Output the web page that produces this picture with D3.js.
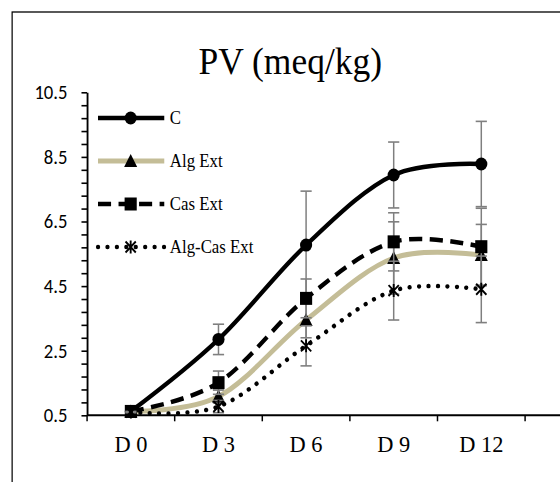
<!DOCTYPE html>
<html>
<head>
<meta charset="utf-8">
<script src="https://cdn.jsdelivr.net/npm/d3@7/dist/d3.min.js"></script>
<style>
  body { margin: 0; background: #fff; }
  svg { display: block; }
</style>
</head>
<body>
<!-- drawn on a 600 wide canvas, squeezed to 560 like the source picture -->
<svg id="chart" width="560" height="482" viewBox="0 0 600 482" preserveAspectRatio="none"></svg>
<script>
// sampling days
const categories = ["D 0", "D 3", "D 6", "D 9", "D 12"];

// PV values (meq/kg) and error bar half-widths
const valuesC = [0.62, 2.85, 5.77, 7.94, 8.28];
const errorsC = [0.03, 0.47, 1.67, 1.02, 1.32];
const valuesAlg = [0.62, 1.08, 3.45, 5.37, 5.46];
const errorsAlg = [0.03, 0.20, 0.55, 1.12, 0.95];
const valuesCas = [0.62, 1.51, 4.12, 5.87, 5.72];
const errorsCas = [0.03, 0.36, 0.60, 0.90, 1.19];
const valuesAlgCas = [0.60, 0.77, 2.65, 4.36, 4.40];
const errorsAlgCas = [0.02, 0.19, 0.62, 0.91, 1.03];

const yTickLabels = [0.5, 2.5, 4.5, 6.5, 8.5, 10.5];
const seriesNames = ["C", "Alg Ext", "Cas Ext", "Alg-Cas Ext"];

const DOTS = "0.1,10";
const series = [
  { name: seriesNames[0], values: valuesC, errors: errorsC, color: "#000", width: 4.5, dash: null, marker: "circle" },
  { name: seriesNames[1], values: valuesAlg, errors: errorsAlg, color: "#c4bd97", width: 5, dash: null, marker: "triangle" },
  { name: seriesNames[2], values: valuesCas, errors: errorsCas, color: "#000", width: 4.5, dash: "14,8", marker: "square" },
  { name: seriesNames[3], values: valuesAlgCas, errors: errorsAlgCas, color: "#000", width: 4.5, dash: DOTS, marker: "star" }
];

const serif = "'Liberation Serif', 'Times New Roman', serif";
const svg = d3.select("#chart");

// outer chart frame (cut off on the right and bottom)
svg.append("rect")
  .attr("x", 13).attr("y", 12)
  .attr("width", 640).attr("height", 520)
  .attr("fill", "none").attr("stroke", "#000").attr("stroke-width", 1.3);

svg.append("text")
  .attr("x", 311).attr("y", 74)
  .attr("text-anchor", "middle")
  .style("font-family", serif)
  .style("font-size", "38px")
  .text("PV (meq/kg)");

const x = d3.scaleBand().domain(categories).range([93.3, 562.6]);
const y = d3.scaleLinear().domain([0.5, 10.5]).range([415.3, 92.3]);
const cx = d => x(d) + x.bandwidth() / 2;

// y axis: minor ticks every 0.4, labels every 2
const yTicks = d3.range(0.5, 10.6, 0.4);
const yAxis = svg.append("g")
  .attr("transform", `translate(${x.range()[0]},0)`)
  .call(d3.axisLeft(y)
    .tickValues(yTicks)
    .tickSize(6)
    .tickSizeOuter(0)
    .tickPadding(15)
    .tickFormat(d => yTickLabels.some(v => Math.abs(v - d) < 1e-6) ? d.toFixed(1) : ""));
yAxis.select(".domain").attr("stroke-width", 2);
yAxis.selectAll(".tick line").attr("stroke-width", 1.6);
yAxis.selectAll("text")
  .style("font-family", "Carlito, Calibri, Lato, sans-serif")
  .style("font-size", "20px")
  .attr("fill", "#000");

// x axis: labels centred in bands, ticks on band edges, line runs off the edge
const xAxis = svg.append("g")
  .attr("transform", `translate(0,${y(0.5)})`)
  .call(d3.axisBottom(x).tickSize(0).tickPadding(20).tickSizeOuter(0));
xAxis.select(".domain").attr("d", `M${x.range()[0]},0H600`).attr("stroke-width", 2);
xAxis.selectAll("text")
  .style("font-family", serif)
  .style("font-size", "24px")
  .attr("fill", "#000")
  .attr("dy", "0.71em");
xAxis.selectAll(".edge")
  .data(categories.map(c => x(c)).concat([x.range()[1]]))
  .join("line")
  .attr("class", "edge")
  .attr("x1", d => d).attr("x2", d => d)
  .attr("y1", 0).attr("y2", 6)
  .attr("stroke", "#000").attr("stroke-width", 1.6);

const line = d3.line()
  .x((d, i) => cx(categories[i]))
  .y(d => y(d))
  .curve(d3.curveCardinal.tension(0));

function drawMarker(g, kind) {
  if (kind === "circle") {
    g.append("circle").attr("r", 6.5).attr("fill", "#000");
  } else if (kind === "triangle") {
    g.append("path").attr("d", "M0,-7L7,6L-7,6Z").attr("fill", "#000");
  } else if (kind === "square") {
    g.append("rect").attr("x", -6.5).attr("y", -6.5).attr("width", 13).attr("height", 13).attr("fill", "#000");
  } else {
    g.append("path")
      .attr("d", "M-5.5,-5.5L5.5,5.5M-5.5,5.5L5.5,-5.5M0,-6.5L0,6.5")
      .attr("stroke", "#000").attr("stroke-width", 2).attr("fill", "none");
  }
}

series.forEach(s => {
  const g = svg.append("g");

  // error bars
  s.values.forEach((v, i) => {
    const px = cx(categories[i]);
    const top = y(v + s.errors[i]), bot = y(v - s.errors[i]);
    g.append("line").attr("x1", px).attr("x2", px).attr("y1", top).attr("y2", bot)
      .attr("stroke", "#7f7f7f").attr("stroke-width", 1.6);
    [top, bot].forEach(yy => g.append("line")
      .attr("x1", px - 6).attr("x2", px + 6).attr("y1", yy).attr("y2", yy)
      .attr("stroke", "#7f7f7f").attr("stroke-width", 1.6));
  });

  g.append("path")
    .attr("d", line(s.values))
    .attr("fill", "none")
    .attr("stroke", s.color)
    .attr("stroke-width", s.width)
    .attr("stroke-linecap", s.dash === DOTS ? "round" : "butt")
    .attr("stroke-dasharray", s.dash);

  s.values.forEach((v, i) => {
    drawMarker(g.append("g").attr("transform", `translate(${cx(categories[i])},${y(v)})`), s.marker);
  });
});

// legend inside the plot, top left
const legendRows = [118, 161, 204, 247];
series.forEach((s, i) => {
  const row = svg.append("g").attr("transform", `translate(0,${legendRows[i]})`);
  row.append("line")
    .attr("x1", 105).attr("x2", 176).attr("y1", 0).attr("y2", 0)
    .attr("stroke", s.color).attr("stroke-width", s.width)
    .attr("stroke-linecap", s.dash === DOTS ? "round" : "butt")
    .attr("stroke-dasharray", s.dash);
  drawMarker(row.append("g").attr("transform", "translate(140,0)"), s.marker);
  row.append("text")
    .attr("x", 182).attr("y", 0).attr("dy", "0.35em")
    .style("font-family", serif)
    .style("font-size", "18px")
    .text(s.name);
});
</script>
</body>
</html>
